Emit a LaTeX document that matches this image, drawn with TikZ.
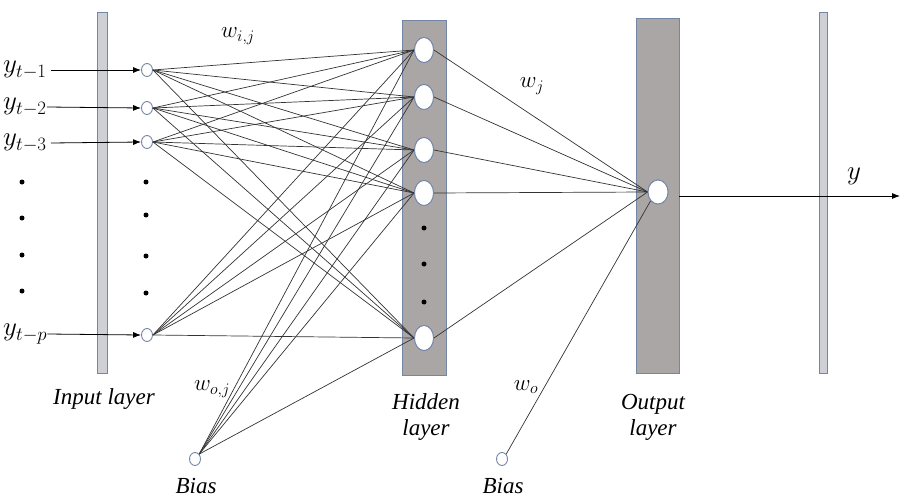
\RequirePackage{fix-cm}
\documentclass[tikz,border=0pt]{standalone}
\usepackage{fontspec}
\setmainfont{Liberation Serif}
\usetikzlibrary{shapes.geometric,arrows.meta}
\definecolor{barline}{HTML}{7486A6}
\definecolor{thinbar}{HTML}{CFCFD6}
\definecolor{widebar}{HTML}{ABA6A6}
\definecolor{wire}{HTML}{333333}
\tikzset{
  layerbar/.style={draw=barline, line width=0.9pt, rectangle, inner sep=0pt},
  innode/.style={ellipse, draw=barline, fill=white, line width=0.9pt, minimum width=11pt, minimum height=13pt, inner sep=0pt},
  hidnode/.style={ellipse, draw=barline, fill=white, line width=0.9pt, minimum width=19pt, minimum height=25pt, inner sep=0pt},
  wt/.style={wire, line width=0.7pt},
  feed/.style={black, line width=0.8pt, -{Latex[length=8pt,width=6pt]}},
  dotmark/.style={circle, fill=black, inner sep=0pt, minimum size=5pt},
  ylabel/.style={font=\fontsize{27}{30}\selectfont, inner sep=0pt},
  mlabel/.style={font=\fontsize{23}{26}\selectfont, inner sep=0pt},
  tlabel/.style={font=\fontsize{23}{26}\selectfont\itshape, inner sep=0pt, align=center},
}
\begin{document}
\begin{tikzpicture}[x=1pt,y=-1pt]
\useasboundingbox (0,0) rectangle (901,497);

% layer bars
\node[layerbar, fill=thinbar, minimum width=10pt, minimum height=361pt] (ib) at (102,192.5) {};
\node[layerbar, fill=widebar, minimum width=44pt, minimum height=355pt] (hb) at (424,197.5) {};
\node[layerbar, fill=widebar, minimum width=43pt, minimum height=355pt] (ob) at (657.5,195.5) {};
\node[layerbar, fill=thinbar, minimum width=8pt, minimum height=361pt] (rb) at (823,192.5) {};

% input neurons
\node[innode] (i1) at (147,70) {};
\node[innode] (i2) at (147,108) {};
\node[innode] (i3) at (147,142) {};
\node[innode] (ip) at (147,335) {};

% hidden neurons
\node[hidnode] (h1) at (424,50) {};
\node[hidnode] (h2) at (424,97) {};
\node[hidnode] (h3) at (424,150) {};
\node[hidnode] (h4) at (424,193) {};
\node[hidnode] (h5) at (424,338) {};

% output neuron
\node[hidnode, minimum width=20pt, minimum height=24pt] (o) at (658,192) {};

% bias neurons
\node[innode] (b1) at (195,459) {};
\node[innode] (b2) at (502,459) {};

% weights input -> hidden
\foreach \a in {i1,i2,i3,ip}
  \foreach \b in {h1,h2,h3,h4,h5}
    \draw[wt] (\a.east) -- (\b.west);
% weights bias -> hidden
\foreach \b in {h1,h2,h3,h4,h5}
  \draw[wt] (b1.north east) -- (\b.west);
% weights hidden -> output
\foreach \b in {h1,h2,h3,h4,h5}
  \draw[wt] (\b.east) -- (o.west);
\draw[wt] (b2.north east) -- (o.south west);

% redraw neurons above the wires
\foreach \p in {{424,50},{424,97},{424,150},{424,193},{424,338}}
  \node[hidnode] at (\p) {};
\node[hidnode, minimum width=20pt, minimum height=24pt] at (658,192) {};

% input labels and arrows
\node[ylabel, anchor=west] (y1) at (3,70) {$y_{t-1}$};
\node[ylabel, anchor=west] (y2) at (3,107) {$y_{t-2}$};
\node[ylabel, anchor=west] (y3) at (3,143) {$y_{t-3}$};
\node[ylabel, anchor=west] (yp) at (3,334) {$y_{t-p}$};
\draw[feed] (y1.east) ++(4pt,0) coordinate (s1) -- (i1.west);
\draw[feed] (y2.east) -- (i2.west);
\draw[feed] (y3.east) ++(4pt,0) coordinate (s3) -- (i3.west);
\draw[feed] (yp.east) -- (ip.west);

% ellipsis dots
\foreach \yy in {182,218,255,291} \node[dotmark] at (22,\yy) {};
\foreach \yy in {182,215,256,293} \node[dotmark] at (146,\yy) {};
\foreach \yy in {228,264,302} \node[dotmark] at (424,\yy) {};

% output arrow
\coordinate (yend) at (900,196);
\draw[feed] (ob.east |- yend) -- (yend);
\node[ylabel] (ylab) at (854,176) {$y$};

% weight labels
\node[mlabel] (wij) at (238,36) {$w_{i,j}$};
\node[mlabel] (wj) at (532,86) {$w_j$};
\node[mlabel] (woj) at (212,389) {$w_{o,j}$};
\node[mlabel] (wo) at (526,387) {$w_o$};

% layer captions
\node[tlabel] (cin) at (104,399) {Input layer};
\node[tlabel] (chid) at (426,417) {Hidden\\layer};
\node[tlabel] (cout) at (653,417) {Output\\layer};
\node[tlabel] (cb1) at (196,486) {Bias};
\node[tlabel] (cb2) at (503,486) {Bias};
\end{tikzpicture}
\end{document}
